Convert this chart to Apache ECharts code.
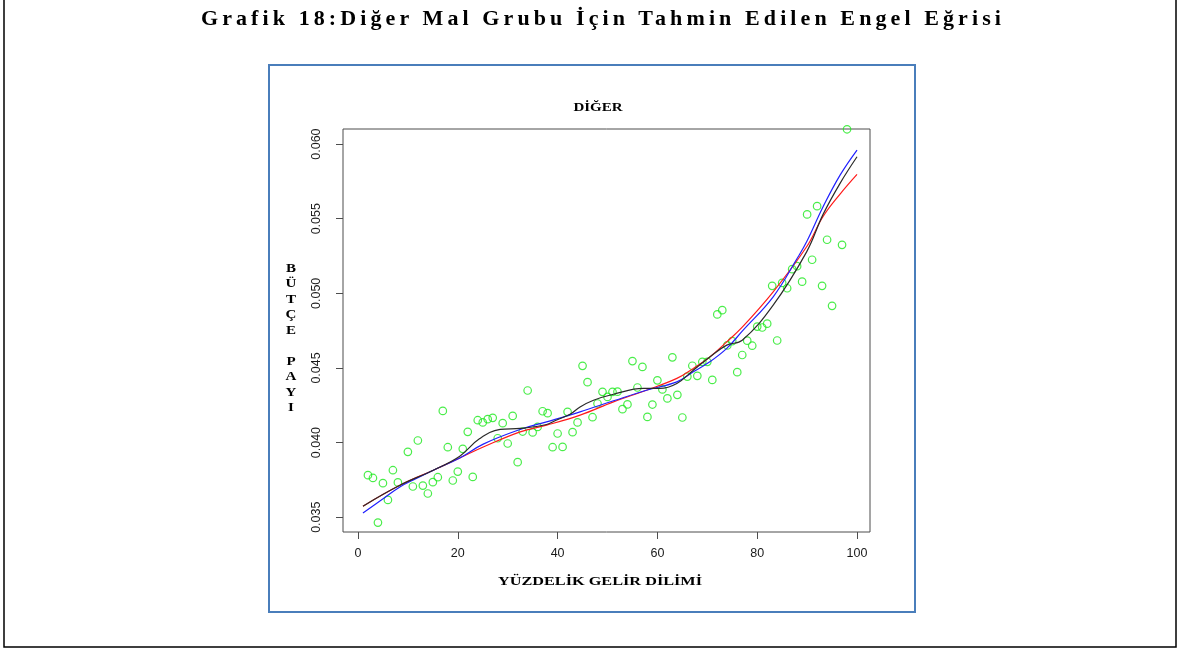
<!DOCTYPE html>
<html>
<head>
<meta charset="utf-8">
<script src="https://cdn.jsdelivr.net/npm/echarts@6/dist/echarts.min.js"></script>
<style>
  html, body { margin: 0; padding: 0; background: #fff; }
  #wrap { position: relative; width: 1180px; height: 650px; overflow: hidden; }
  #chart { position: absolute; left: 0; top: 0; width: 1180px; height: 650px; }
  #page-title {
    position: absolute; left: 13px; top: 5px; width: 1180px; text-align: center;
    font-family: "Liberation Serif", "DejaVu Serif", serif; font-weight: bold;
    font-size: 22px; line-height: 26px; letter-spacing: 4.1px; color: #000;
  }
</style>
</head>
<body>
<div id="wrap">
  <div id="chart"></div>
  <div id="page-title">Grafik 18:Diğer Mal Grubu İçin Tahmin Edilen Engel Eğrisi</div>
</div>
<script>
// Observed budget shares by income percentile
const incomePercentile = [2, 3, 4, 5, 6, 7, 8, 9, 10, 11, 12, 13, 14, 15, 16, 17, 18, 19, 20,
  21, 22, 23, 24, 25, 26, 27, 28, 29, 30, 31, 32, 33, 34, 35, 36, 37, 38, 39, 40,
  41, 42, 43, 44, 45, 46, 47, 48, 49, 50, 51, 52, 53, 54, 55, 56, 57, 58, 59, 60,
  61, 62, 63, 64, 65, 66, 67, 68, 69, 70, 71, 72, 73, 74, 75, 76, 77, 78, 79, 80,
  81, 82, 83, 84, 85, 86, 87, 88, 89, 90, 91, 92, 93, 94, 95, 97, 98];
const budgetShare = [0.03782, 0.03763, 0.03464, 0.03728, 0.03616, 0.03815, 0.03733, 0.03395, 0.03938, 0.03706,
  0.04014, 0.03712, 0.03659, 0.03735, 0.03768, 0.04212, 0.03969, 0.03746, 0.03806,
  0.03958, 0.04072, 0.03770, 0.04150, 0.04135, 0.04157, 0.04166, 0.04029, 0.04130, 0.03994,
  0.04179, 0.03869, 0.04074, 0.04349, 0.04068, 0.04105, 0.04210, 0.04197, 0.03969, 0.04061,
  0.03971, 0.04206, 0.04070, 0.04135, 0.04514, 0.04405, 0.04170, 0.04262, 0.04340, 0.04306,
  0.04340, 0.04341, 0.04224, 0.04256, 0.04546, 0.04369, 0.04507, 0.04172, 0.04255, 0.04417,
  0.04356, 0.04296, 0.04571, 0.04320, 0.04168, 0.04442, 0.04515, 0.04447, 0.04541, 0.04541,
  0.04420, 0.04859, 0.04887, 0.04651, 0.04680, 0.04472, 0.04587, 0.04683, 0.04649, 0.04777,
  0.04771, 0.04797, 0.05050, 0.04684, 0.05070, 0.05034, 0.05162, 0.05182, 0.05078, 0.05529,
  0.05225, 0.05584, 0.05050, 0.05359, 0.04916, 0.05325, 0.06099];

// Fitted Engel curves (red, blue, black)
const redX = [1, 8.4, 15.1, 20.4, 25.1, 32.5, 37.8, 44.5, 51.2, 57.8, 63.9, 67.2, 70.5, 73.9, 77, 83.2, 89.9, 93.2, 96.6, 100];
const redY = [0.03574, 0.03714, 0.03815, 0.03897, 0.03970, 0.04072, 0.04117, 0.04184, 0.04273, 0.04351, 0.04430, 0.04497,
  0.04574, 0.04675, 0.04773, 0.05010, 0.05312, 0.05515, 0.05665, 0.05797];
const blueX = [1, 5.1, 8.4, 11.7, 15.1, 20.4, 25.1, 32.5, 37.8, 44.5, 51.2, 57.8, 63.9, 67.2, 70.5, 73.9, 77, 83.2, 88.2, 89.9, 93.2, 96.6, 100];
const blueY = [0.03529, 0.03625, 0.03703, 0.03759, 0.03815, 0.03897, 0.03990, 0.04088, 0.04139, 0.04206, 0.04280, 0.04351,
  0.04407, 0.04474, 0.04541, 0.04631, 0.04747, 0.04977, 0.05245, 0.05345, 0.05580, 0.05792, 0.05960];
const blackX = [1, 8.4, 15.1, 20.4, 24.4, 28.5, 32.5, 37.8, 39.7, 42.5, 44.5, 47.2, 51.2, 57.2, 60.5, 63.9, 67.2, 70.5, 73.9, 77, 83.2, 89.9, 93.2, 96.6, 100];
const blackY = [0.03574, 0.03714, 0.03815, 0.03909, 0.04027, 0.04088, 0.04095, 0.04121, 0.04150, 0.04190, 0.04239, 0.04284,
  0.04324, 0.04363, 0.04363, 0.04396, 0.04485, 0.04574, 0.04653, 0.04686, 0.04921, 0.05278, 0.05529, 0.05737, 0.05915];

// Tick labels
const xTicks = [0, 20, 40, 60, 80, 100];
const yTicks = [0.035, 0.040, 0.045, 0.050, 0.055, 0.060];

const zip = (xs, ys) => xs.map((x, i) => [x, ys[i]]);

const chart = echarts.init(document.getElementById('chart'), null, { renderer: 'canvas' });

const axisFont = { fontFamily: 'Liberation Sans, Arial, sans-serif', fontSize: 12.5, color: '#1a1a1a' };

function curve(name, xs, ys, color) {
  return {
    name, type: 'line', data: zip(xs, ys), smooth: 0.4, symbol: 'none', clip: true,
    lineStyle: { color, width: 1.2 }, z: 3, silent: true
  };
}

// serif labels are drawn slightly widened
function serifLabel(text, x, y, size, extra) {
  return {
    type: 'text', x, y, scaleX: 1.25, silent: true,
    style: Object.assign({
      text, font: 'bold ' + size + 'px "Liberation Serif", "Times New Roman", serif',
      fill: '#000', align: 'center', verticalAlign: 'middle'
    }, extra || {})
  };
}

chart.setOption({
  animation: false,
  backgroundColor: '#fff',
  grid: {
    left: 343, top: 129, width: 527, height: 403,
    show: true, borderColor: '#4d4d4d', borderWidth: 1, backgroundColor: 'transparent'
  },
  xAxis: {
    type: 'value', min: -3.0, max: 102.6,
    axisLine: { show: false, onZero: false },
    axisTick: { show: true, length: 7, customValues: xTicks, lineStyle: { color: '#4d4d4d' } },
    axisLabel: Object.assign({ customValues: xTicks, margin: 15 }, axisFont),
    splitLine: { show: false }
  },
  yAxis: {
    type: 'value', min: 0.03401, max: 0.06101,
    axisLine: { show: false, onZero: false },
    axisTick: { show: true, length: 7, customValues: yTicks, lineStyle: { color: '#4d4d4d' } },
    axisLabel: Object.assign({
      customValues: yTicks, margin: 20, rotate: 90,
      formatter: v => v.toFixed(3)
    }, axisFont),
    splitLine: { show: false }
  },
  series: [
    {
      name: 'DİĞER', type: 'scatter', data: zip(incomePercentile, budgetShare),
      symbol: 'circle', symbolSize: 7.5, clip: true, z: 2,
      itemStyle: { color: 'rgba(0,0,0,0)', borderColor: '#1de81d', borderWidth: 1.2 }
    },
    curve('red', redX, redY, '#ff1a1a'),
    curve('blue', blueX, blueY, '#2020ff'),
    curve('black', blackX, blackY, '#2b2b2b')
  ],
  graphic: [
    // page frame
    { type: 'polyline', shape: { points: [[4, -5], [4, 647], [1176, 647], [1176, -5]] },
      style: { stroke: '#000', lineWidth: 1.5, fill: null }, silent: true },
    // figure frame
    { type: 'rect', shape: { x: 269, y: 65, width: 646, height: 547 },
      style: { stroke: '#4a7ebb', lineWidth: 2, fill: null }, silent: true },
    serifLabel('DİĞER', 598, 108, 12),
    serifLabel('YÜZDELİK GELİR DİLİMİ', 600, 582, 13),
    serifLabel('B\nÜ\nT\nÇ\nE\n\nP\nA\nY\nI', 291, 261, 12, { lineHeight: 15.5, verticalAlign: 'top' })
  ]
});
</script>
</body>
</html>
